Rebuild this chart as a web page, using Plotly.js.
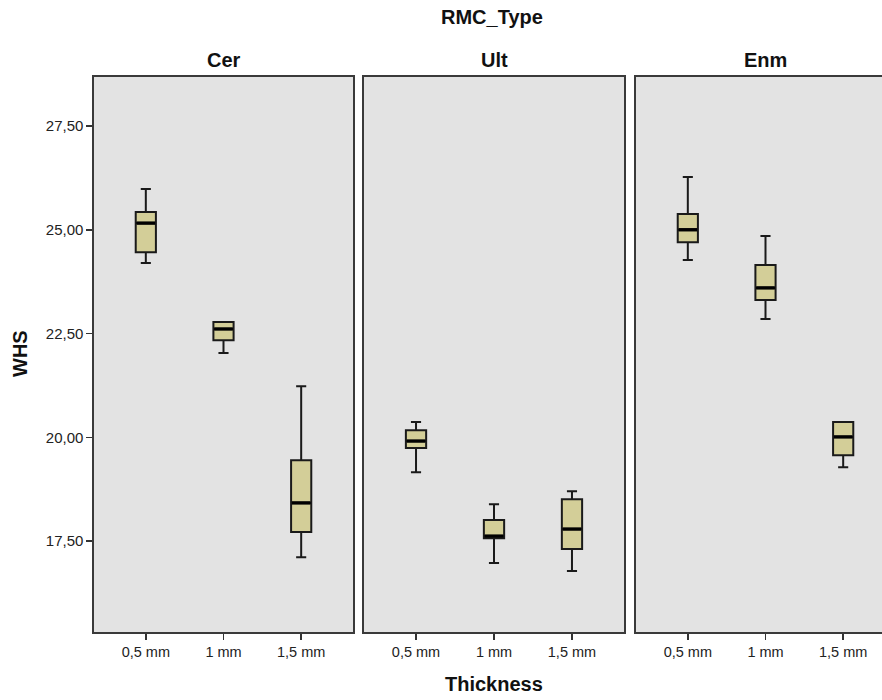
<!DOCTYPE html>
<html>
<head>
<meta charset="utf-8">
<script src="https://cdn.plot.ly/plotly-3.0.1.min.js"></script>
<style>html,body{margin:0;padding:0;overflow:hidden;background:#fff;}#chart{width:900px;height:700px;}</style>
</head>
<body>
<div id="chart"></div>
<script>
const categories = ['0,5 mm', '1 mm', '1,5 mm'];
const panels = ['Cer', 'Ult', 'Enm'];
const yTicks = [17.5, 20, 22.5, 25, 27.5];

const cerLower = [24.20, 22.03, 17.11];
const cerQ1    = [24.46, 22.34, 17.72];
const cerMed   = [25.16, 22.61, 18.42];
const cerQ3    = [25.43, 22.78, 19.45];
const cerUpper = [25.98, 22.78, 21.23];

const ultLower = [19.16, 16.97, 16.78];
const ultQ1    = [19.74, 17.57, 17.31];
const ultMed   = [19.91, 17.62, 17.79];
const ultQ3    = [20.17, 18.01, 18.51];
const ultUpper = [20.37, 18.39, 18.70];

const enmLower = [24.27, 22.85, 19.28];
const enmQ1    = [24.70, 23.31, 19.57];
const enmMed   = [25.00, 23.60, 20.01];
const enmQ3    = [25.38, 24.15, 20.37];
const enmUpper = [26.27, 24.85, 20.37];

const stats = [
  [cerLower, cerQ1, cerMed, cerQ3, cerUpper],
  [ultLower, ultQ1, ultMed, ultQ3, ultUpper],
  [enmLower, enmQ1, enmMed, enmQ3, enmUpper]
];

const W = 900, H = 700;
const panelPx = [[94, 353], [364, 624], [636, 895]];
const yDom = [1 - 632 / H, 1 - 77 / H];
const yRange = [15.31, 28.68];
const boxW = 0.26;
const xPos = categories.map((c, i) => i);
const FONT = 'Liberation Sans, Arial, sans-serif';

const traces = [];
const layout = {
  width: W, height: H,
  margin: {l: 0, r: 0, t: 0, b: 0},
  paper_bgcolor: '#ffffff',
  plot_bgcolor: '#e3e3e3',
  separators: ',.',
  showlegend: false,
  font: {family: FONT, color: '#222', size: 14},
  annotations: []
};

panels.forEach((p, k) => {
  const s = stats[k];
  const xa = k === 0 ? 'x' : 'x' + (k + 1);
  const ya = k === 0 ? 'y' : 'y' + (k + 1);
  traces.push({
    type: 'box', xaxis: xa, yaxis: ya,
    x: xPos,
    lowerfence: s[0], q1: s[1], median: s[2], q3: s[3], upperfence: s[4],
    width: boxW, whiskerwidth: 0.5,
    boxpoints: false,
    fillcolor: '#d3ce98',
    line: {color: '#1a1a1a', width: 2},
    hoverinfo: 'skip'
  });
  const mx = [], my = [];
  xPos.forEach((x, i) => {
    mx.push(x - boxW / 2 + 0.01, x + boxW / 2 - 0.01, null);
    my.push(s[2][i], s[2][i], null);
  });
  traces.push({
    type: 'scatter', mode: 'lines', xaxis: xa, yaxis: ya,
    x: mx, y: my,
    line: {color: '#000', width: 3.4},
    hoverinfo: 'skip'
  });

  const xKey = k === 0 ? 'xaxis' : 'xaxis' + (k + 1);
  const yKey = k === 0 ? 'yaxis' : 'yaxis' + (k + 1);
  layout[xKey] = {
    domain: [panelPx[k][0] / W, panelPx[k][1] / W],
    anchor: ya,
    range: [-0.667, 2.667],
    tickmode: 'array', tickvals: xPos, ticktext: categories,
    ticks: 'outside', ticklen: 6, tickwidth: 1.5, tickcolor: '#333',
    showline: true, mirror: true, linecolor: '#3a3a3a', linewidth: 1.6,
    showgrid: false, zeroline: false, fixedrange: true,
    tickfont: {family: FONT, size: 14.5, color: '#222'}
  };
  layout[yKey] = {
    domain: yDom,
    anchor: xa,
    range: yRange,
    tickmode: 'array', tickvals: yTicks,
    tickformat: '.2f',
    ticks: k === 0 ? 'outside' : '',
    showticklabels: k === 0,
    ticklen: 6, tickwidth: 1.5, tickcolor: '#333',
    showline: true, mirror: true, linecolor: '#3a3a3a', linewidth: 1.6,
    showgrid: false, zeroline: false, fixedrange: true,
    tickfont: {family: FONT, size: 15, color: '#222'}
  };
  layout.annotations.push({
    text: '<b>' + p + '</b>', xref: 'paper', yref: 'paper',
    x: (panelPx[k][0] + panelPx[k][1]) / 2 / W, y: 1 - 60 / H,
    xanchor: 'center', yanchor: 'middle', showarrow: false,
    font: {family: FONT, size: 20, color: '#111'}
  });
});

layout.annotations.push({
  text: '<b>RMC_Type</b>', xref: 'paper', yref: 'paper',
  x: 492 / W, y: 1 - 17 / H, xanchor: 'center', yanchor: 'middle', showarrow: false,
  font: {family: FONT, size: 20, color: '#111'}
});
layout.annotations.push({
  text: '<b>Thickness</b>', xref: 'paper', yref: 'paper',
  x: 494 / W, y: 1 - 684 / H, xanchor: 'center', yanchor: 'middle', showarrow: false,
  font: {family: FONT, size: 20, color: '#111'}
});
layout.annotations.push({
  text: '<b>WHS</b>', xref: 'paper', yref: 'paper',
  x: 20 / W, y: 1 - 354 / H, xanchor: 'center', yanchor: 'middle', showarrow: false,
  textangle: -90,
  font: {family: FONT, size: 20, color: '#111'}
});

Plotly.newPlot('chart', traces, layout, {staticPlot: true, displayModeBar: false});
</script>
</body>
</html>
